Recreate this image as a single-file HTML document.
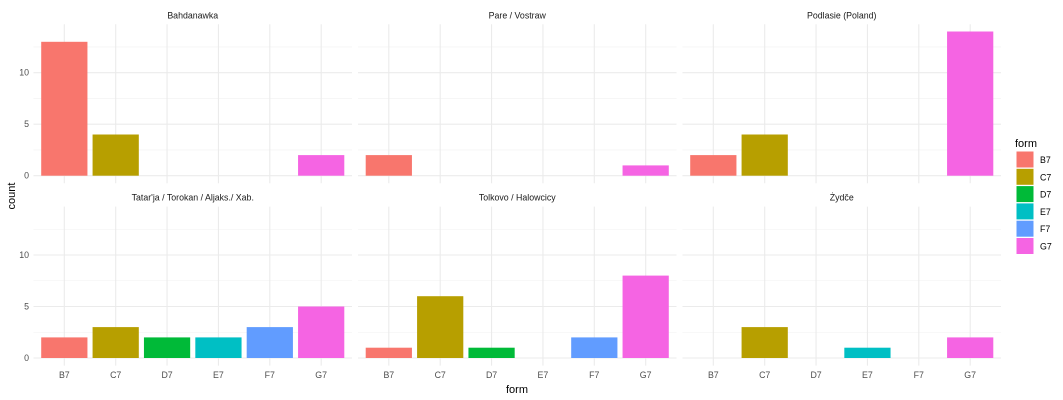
<!DOCTYPE html>
<html><head><meta charset="utf-8"><style>
body{margin:0;background:#fff}
svg{display:block;font-family:"Liberation Sans",sans-serif}
</style></head><body>
<svg id="c" width="1063" height="400"></svg>
<script>
const categories=["B7","C7","D7","E7","F7","G7"];
const colors=["#F8766D","#B79F00","#00BA38","#00BFC4","#619CFF","#F564E3"];
const facetNames=["Bahdanawka","Pare / Vostraw","Podlasie (Poland)","Tatar'ja / Torokan / Aljaks./ Xab.","Tolkovo / Halowcicy","Żydče"];
const bahdanawka=[13,4,0,0,0,2];
const pare=[2,0,0,0,0,1];
const podlasie=[2,4,0,0,0,14];
const tatarja=[2,3,2,2,3,5];
const tolkovo=[1,6,1,0,2,8];
const zydce=[0,3,0,1,0,2];
const yTicks=[0,5,10];
const yMinor=[2.5,7.5,12.5];
const series=[bahdanawka,pare,podlasie,tatarja,tolkovo,zydce];
const svg=document.getElementById('c');
const NS='http://www.w3.org/2000/svg';
function mk(t,a,p){const e=document.createElementNS(NS,t);for(const k in a)e.setAttribute(k,a[k]);(p||svg).appendChild(e);return e;}
const lefts=[33.5,358,682.5],W=318.5;
const zeros=[175.7,358];
const ymax=Math.max(...series.flat())*1.05;
const pxPer=10.3;
const step=W/(categories.length+0.2);
series.forEach((vals,f)=>{
  const col=f%3,row=Math.floor(f/3);
  const L=lefts[col],z=zeros[row];
  const top=z-ymax*pxPer,bot=z+0.05*ymax*pxPer;
  const xs=i=>L+(0.6+i)*step;
  const ys=v=>z-v*pxPer;
  const g=mk('g',{});
  
  
  yMinor.forEach(v=>{if(v<=ymax)mk('line',{x1:L,x2:L+W,y1:ys(v),y2:ys(v),stroke:'#f0f0f0','stroke-width':0.6},g);});
  yTicks.forEach(v=>{mk('line',{x1:L,x2:L+W,y1:ys(v),y2:ys(v),stroke:'#ebebeb','stroke-width':1.1},g);});
  categories.forEach((c,i)=>{mk('line',{x1:xs(i),x2:xs(i),y1:top,y2:bot,stroke:'#ebebeb','stroke-width':1.1},g);});
  vals.forEach((v,i)=>{if(v>0){const r=mk('rect',{x:xs(i)-0.45*step,width:0.9*step,y:ys(v),height:v*pxPer,fill:colors[i]},g);
    
    }});
  const st=mk('text',{x:L+W/2,y:top-6,'text-anchor':'middle','font-size':8.8,fill:'#1a1a1a'},g);st.textContent=facetNames[f];
  
  
  if(col===0){yTicks.forEach(v=>{const t=mk('text',{x:29,y:ys(v)+3,'text-anchor':'end','font-size':8.8,fill:'#4d4d4d'},g);t.textContent=v;
    
    });}
  if(row===1){categories.forEach((c,i)=>{const t=mk('text',{x:xs(i),y:378,'text-anchor':'middle','font-size':8.8,fill:'#4d4d4d'},g);t.textContent=c;
    
    });}
});
let t=mk('text',{x:517,y:393,'text-anchor':'middle','font-size':11,fill:'#000'});t.textContent='form';


t=mk('text',{x:15,y:196,'text-anchor':'middle','font-size':11,fill:'#000',transform:'rotate(-90 15 196)'});t.textContent='count';


const lg=mk('g',{});


t=mk('text',{x:1015,y:147,'font-size':11,fill:'#000'},lg);t.textContent='form';
categories.forEach((c,i)=>{const y=151.5+i*17.3;
  const r=mk('rect',{x:1016.5,y:y,width:17,height:16,fill:colors[i]},lg);
  
  
  const tt=mk('text',{x:1040,y:y+11.5,'font-size':8.8,fill:'#000'},lg);tt.textContent=c;
  
  });
</script>
</body></html>
